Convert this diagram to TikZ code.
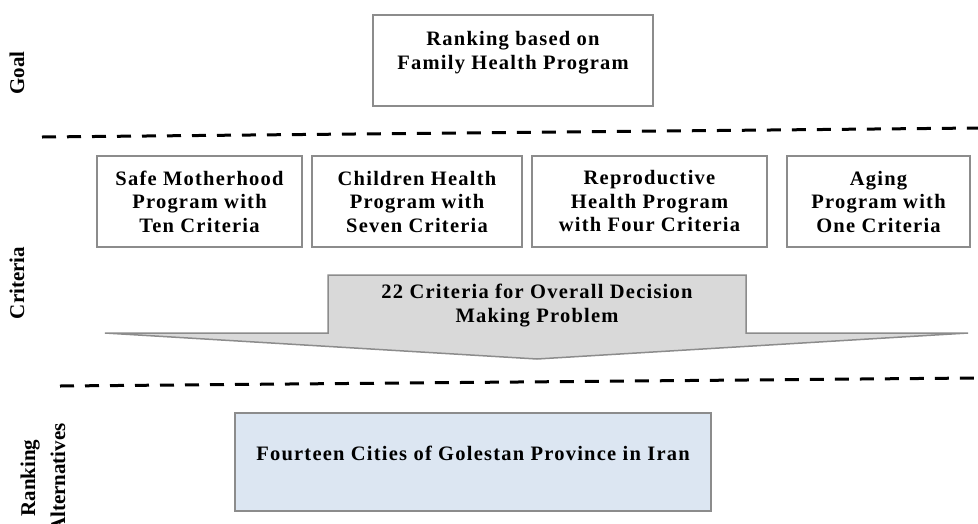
\documentclass[tikz,border=0pt]{standalone}
\usepackage{fontspec}
\setmainfont{Liberation Serif}
\newfontfamily\boxfont[LetterSpace=6]{Liberation Serif}
\usetikzlibrary{positioning}

\definecolor{boxgray}{RGB}{140,140,140}
\definecolor{arrowgray}{RGB}{217,217,217}
\definecolor{altblue}{RGB}{220,230,242}

\begin{document}
\begin{tikzpicture}[x=1pt, y=-1pt, node distance=0pt]
    \tikzset{
        box/.style={
            rectangle,
            draw=boxgray,
            line width=2pt,
            fill=white,
            inner sep=0pt
        },
        crit/.style={
            box,
            minimum height=91pt,
            align=center,
            font=\boxfont\bfseries\fontsize{20.5}{23.5}\selectfont
        },
        boxtext/.style={
            align=center,
            inner sep=0pt,
            font=\boxfont\bfseries\fontsize{20.5}{24}\selectfont
        },
        levellabel/.style={
            rotate=90,
            align=center,
            inner sep=0pt,
            font=\bfseries\fontsize{21}{30}\selectfont
        },
        divider/.style={
            dash pattern=on 14pt off 11pt,
            line width=3pt
        }
    }
    \useasboundingbox (0,0) rectangle (978,523);

    % goal level
    \node[box, minimum width=280pt, minimum height=91pt] (goal) at (513,60.5) {};
    \node[boxtext] (goaltext) at (513,53) {Ranking based on\\Family Health Program};

    \coordinate (divAleft) at (42,137);
    \coordinate (divAright) at (978,128);
    \draw[divider] (divAleft) -- (divAright);

    % criteria level
    \node[crit, minimum width=205pt] (safe) at (199.5,201.5) {Safe Motherhood\\Program with\\Ten Criteria};
    \node[crit, minimum width=210pt, right=8pt of safe] (children) {Children Health\\Program with\\Seven Criteria};
    \node[crit, minimum width=235pt, right=8pt of children] (repro) {Reproductive\\Health Program\\with Four Criteria};
    \node[crit, minimum width=183pt, right=18pt of repro] (aging) {Aging\\Program with\\One Criteria};

    \draw[draw=boxgray, line width=1.5pt, fill=arrowgray, line join=miter]
        (328,275) -- (746,275) -- (746,333) -- (968,333) -- (537,359)
        -- (105,333) -- (328,333) -- cycle;
    \node[boxtext] (overall) at (537,306) {22 Criteria for Overall Decision\\Making Problem};

    \coordinate (divBleft) at (60,386);
    \coordinate (divBright) at (975,378);
    \draw[divider] (divBleft) -- (divBright);

    % alternatives level
    \node[box, fill=altblue, minimum width=476pt, minimum height=98pt] (alts) at (473,462) {};
    \node[boxtext] (altstext) at (473,453) {Fourteen Cities of Golestan Province in Iran};

    % level names
    \node[levellabel] (goallabel) at (17,73) {Goal};
    \node[levellabel] (critlabel) at (17,283) {Criteria};
    \node[levellabel] (altlabel) at (43,478) {Ranking\\Alternatives};
\end{tikzpicture}
\end{document}
